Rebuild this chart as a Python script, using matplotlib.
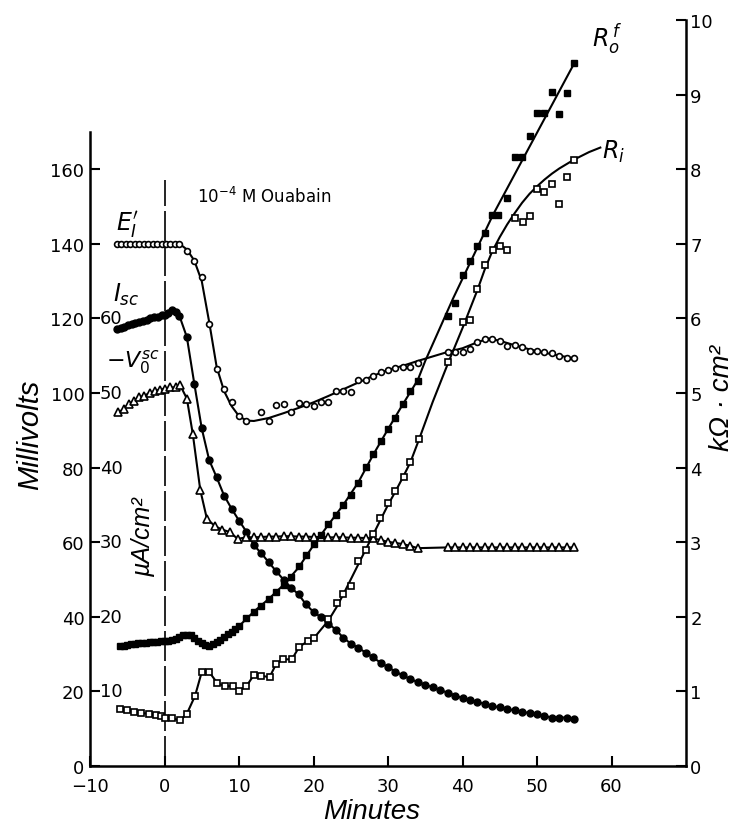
import matplotlib
matplotlib.use("Agg")
import matplotlib.pyplot as plt

# Ouabain experiment: potentials (mV), short-circuit current (uA/cm2 -> plotted x2 on mV scale),
# resistances (kOhm*cm2, right axis; 1 kOhm*cm2 sits at 20 mV on the left scale)

# E_I' (mV), open circles
ei_x = [-6.4, -5.8, -5.2, -4.6, -4.0, -3.4, -2.8, -2.2, -1.6, -1.0, -0.4, 0.2, 0.8, 1.4, 2.0,
        3, 4, 5, 6, 7, 8, 9, 10, 11, 13, 14, 15, 16, 17, 18, 19, 20, 21, 22, 23, 24, 25,
        26, 27, 28, 29, 30, 31, 32, 33, 34,
        38, 39, 40, 41, 42, 43, 44, 45, 46, 47, 48, 49, 50, 51, 52, 53, 54, 55]
ei_y = [140, 140, 140, 140, 140, 140, 140, 140, 140, 140, 140, 140, 140, 140, 140,
        138.1, 135.5, 131.0, 118.5, 106.4, 101.0, 97.7, 93.7, 92.6, 94.8, 92.6, 96.8, 97.0,
        94.8, 97.3, 97.0, 96.5, 97.5, 97.6, 100.6, 100.6, 100.3,
        103.5, 103.5, 104.6, 105.7, 106.2, 106.8, 107.1, 107.1, 108.0,
        111.0, 111.0, 111.1, 111.8, 113.6, 114.5, 114.6, 114.0, 112.7, 112.9, 112.2, 111.3,
        111.3, 111.0, 110.6, 109.8, 109.3, 109.3]
# fitted curve for E_I'
ei_fit_x = [-6.4, 2, 3, 4, 5, 6, 7, 8, 9, 10, 11, 12, 14, 16, 18, 20, 22, 24, 26, 28, 30,
            32, 34, 36, 38, 40, 42, 43.5, 45, 47, 49, 51, 53, 55]
ei_fit_y = [140, 140, 138.5, 135.5, 130, 119, 107, 100.5, 96.5, 93.8, 92.6, 92.5, 93.3,
            94.6, 96, 97.5, 99.2, 101, 102.8, 104.6, 106.2, 107.3, 108.6, 109.8, 111, 112,
            113.6, 114.6, 114, 112.8, 111.7, 110.8, 110, 109.3]

# I_sc (plotted on mV scale, uA/cm2 * 2), filled circles
isc_x = [-6.4, -5.9, -5.4, -4.9, -4.4, -3.9, -3.4, -2.9, -2.4, -1.9, -1.4, -0.9, -0.4, 0.1,
         0.5, 1.0, 1.5, 2.0,
         3, 4, 5, 6, 7, 8, 9, 10, 11, 12, 13, 14, 15, 16, 17, 18, 19, 20, 21, 22, 23, 24,
         25, 26, 27, 28, 29, 30, 31, 32, 33, 34, 35, 36, 37, 38, 39, 40, 41, 42, 43, 44,
         45, 46, 47, 48, 49, 50, 51, 52, 53, 54, 55]
isc_y = [117.2, 117.5, 117.8, 118.1, 118.5, 118.8, 119.1, 119.4, 119.7, 120.0, 120.3,
         120.5, 120.8, 121.0, 121.4, 122.3, 121.6, 120.7,
         115.0, 102.5, 90.5, 82.0, 77.4, 72.5, 69.0, 65.8, 62.8, 59.2, 57.0, 54.6, 52.2,
         49.9, 47.8, 46.0, 43.3, 41.3, 39.9, 38.2, 36.5, 34.4, 32.8, 31.7, 30.4, 29.1, 27.7,
         26.5, 25.3, 24.3, 23.3, 22.5, 21.8, 21.1, 20.3, 19.7, 18.9, 18.2, 17.7, 17.2, 16.6,
         16.1, 15.7, 15.3, 14.9, 14.5, 14.2, 13.9, 13.4, 13.0, 13.0, 13.0, 12.7]

# -V_0^sc (mV), open triangles
v_x = [-6.2, -5.5, -4.8, -4.1, -3.4, -2.7, -2.0, -1.3, -0.6, 0.1, 0.8, 1.5, 2.1,
       3.0, 3.8, 4.8, 5.7, 6.8, 7.7, 8.8, 9.8,
       11, 12, 13, 14, 15, 16, 17, 18, 19, 20, 21, 22, 23, 24, 25, 26, 27, 28,
       29, 30, 31, 32, 33, 34,
       38, 39, 40, 41, 42, 43, 44, 45, 46, 47, 48, 49, 50, 51, 52, 53, 54, 55]
v_y = [94.8, 95.7, 97.1, 97.9, 98.8, 99.3, 100.0, 100.6, 100.9, 101.2, 101.5, 101.5, 102.1,
       98.5, 89.0, 74.0, 66.2, 64.3, 63.4, 62.7, 60.9,
       61.3, 61.3, 61.4, 61.5, 61.5, 61.6, 61.6, 61.5, 61.5, 61.4, 61.4, 61.3, 61.3, 61.3,
       61.2, 61.2, 61.1, 61.0,
       60.6, 60.1, 59.8, 59.5, 59.0, 58.4,
       58.6, 58.6, 58.6, 58.6, 58.6, 58.6, 58.6, 58.6, 58.6, 58.6, 58.6, 58.6, 58.6, 58.6,
       58.6, 58.6, 58.6, 58.6]

# R_o^f (kOhm*cm2), filled squares
ro_x = [-6, -5.5, -5, -4.5, -4, -3.5, -3, -2.5, -2, -1.5, -1, -0.5, 0, 0.5, 1, 1.5, 2, 2.5,
        3, 3.5, 4, 4.5, 5, 5.5, 6, 6.5, 7, 7.5, 8, 8.5, 9, 9.5, 10,
        11, 12, 13, 14, 15, 16, 17, 18, 19, 20, 21, 22, 23, 24, 25, 26, 27, 28, 29, 30, 31,
        32, 33, 34,
        38, 39, 40, 41, 42, 43, 44, 44.8, 46, 47, 48, 49, 50, 51, 52, 53, 54, 55]
ro_y = [1.605, 1.615, 1.625, 1.635, 1.64, 1.645, 1.65, 1.655, 1.66, 1.665, 1.665, 1.67,
        1.67, 1.675, 1.685, 1.70, 1.73, 1.75, 1.76, 1.755, 1.72, 1.675, 1.65, 1.625, 1.615,
        1.63, 1.66, 1.69, 1.725, 1.765, 1.80, 1.84, 1.875,
        1.99, 2.07, 2.145, 2.24, 2.335, 2.43, 2.54, 2.68, 2.83, 2.97, 3.095, 3.24, 3.37,
        3.50, 3.63, 3.79, 4.01, 4.18, 4.36, 4.515, 4.66, 4.855, 5.025, 5.165,
        6.03, 6.20, 6.58, 6.77, 6.97, 7.15, 7.39, 7.39, 7.62, 8.16, 8.16, 8.44, 8.75, 8.75,
        9.04, 8.74, 9.02, 9.42]
# fitted curve for R_o^f
ro_fit_x = [-6, -3, 0, 1.5, 3, 3.5, 4.5, 5.5, 6.5, 8, 10, 12, 14, 16, 18, 20, 22, 24, 26,
            28, 30, 32, 34, 35, 38.7, 44.1, 55]
ro_fit_y = [1.605, 1.65, 1.67, 1.70, 1.76, 1.755, 1.675, 1.615, 1.63, 1.725, 1.875, 2.07,
            2.24, 2.43, 2.66, 2.96, 3.235, 3.50, 3.80, 4.17, 4.515, 4.85, 5.175, 5.43, 6.26,
            7.39, 9.42]

# R_i (kOhm*cm2), open squares
ri_x = [-6.0, -5.1, -4.1, -3.1, -2.1, -1.1, -0.5, 0.1, 1.0, 2.1,
        3.0, 4.1, 5.0, 6.0, 7.1, 8.1, 9.2, 10.0, 11.0, 12.0, 13.0, 14.1, 15.0, 15.9, 17.1,
        18.1, 19.2, 20.1, 22.0, 23.1, 24.0, 25.1, 26.0, 27.1, 28.0, 28.9, 30.0, 30.9, 32.1,
        33.0, 34.1,
        38.1, 40.0, 41.0, 42.0, 43.0, 44.1, 45.0, 46.0, 47.0, 48.1, 49.1, 50.0, 50.9, 52.0,
        53.0, 54.0, 55.0]
ri_y = [0.77, 0.75, 0.73, 0.71, 0.70, 0.68, 0.67, 0.65, 0.64, 0.61,
        0.70, 0.94, 1.26, 1.26, 1.11, 1.07, 1.07, 1.01, 1.07, 1.22, 1.21, 1.19, 1.37, 1.43,
        1.43, 1.60, 1.67, 1.72, 1.97, 2.19, 2.31, 2.41, 2.75, 2.89, 3.11, 3.33, 3.53, 3.69,
        3.87, 4.07, 4.38,
        5.41, 5.95, 5.98, 6.40, 6.71, 6.92, 6.97, 6.92, 7.34, 7.29, 7.37, 7.73, 7.70, 7.80,
        7.53, 7.89, 8.13]
# fitted curve for R_i
ri_fit_x = [-6.0, -5.1, -4.1, -3.1, -2.1, -1.1, -0.5, 0.1, 1.0, 2.1, 3.0, 4.1, 5.0, 6.0,
            7.1, 8.1, 9.2, 10.0, 11.0, 12.0, 13.0, 14.1, 15.0, 15.9, 17.1, 18.1, 19.2, 20.1,
            22, 23.1, 24, 25, 26, 27, 28, 29, 30, 31, 32, 33, 34.1, 36, 38.1, 40, 42, 43, 44,
            45, 46, 47, 48, 49, 50, 51, 52, 53, 55, 57, 58.5]
ri_fit_y = [0.77, 0.75, 0.73, 0.71, 0.70, 0.68, 0.67, 0.65, 0.64, 0.61, 0.70, 0.94, 1.26,
            1.26, 1.11, 1.07, 1.07, 1.01, 1.07, 1.22, 1.21, 1.19, 1.37, 1.43, 1.43, 1.60,
            1.67, 1.72, 1.95, 2.13, 2.30, 2.50, 2.70, 2.90, 3.10, 3.30, 3.50, 3.68, 3.87,
            4.07, 4.36, 4.88, 5.41, 5.87, 6.38, 6.66, 6.90, 7.09, 7.26, 7.41, 7.55, 7.67,
            7.77, 7.86, 7.94, 8.01, 8.13, 8.23, 8.29]

mv_ticks = [0, 20, 40, 60, 80, 100, 120, 140, 160]
ua_ticks = [10, 20, 30, 40, 50, 60]
k_ticks = [0, 1, 2, 3, 4, 5, 6, 7, 8, 9, 10]
min_ticks = [-10, 0, 10, 20, 30, 40, 50, 60]

fig = plt.figure(figsize=(7.43, 8.29), dpi=100)
ax = fig.add_axes([90 / 743, 62 / 829, 596 / 743, 746 / 829])
ax.set_xlim(-10, 70)
ax.set_ylim(0, 200)
ax2 = ax.twinx()
ax2.set_ylim(0, 10)

for a in (ax, ax2):
    a.spines['top'].set_visible(False)
    for s in a.spines.values():
        s.set_linewidth(1.8)
ax.spines['right'].set_visible(False)
ax2.spines['left'].set_visible(False)
ax2.spines['bottom'].set_visible(False)
ax.spines['left'].set_bounds(0, 170)

ax.set_xticks(min_ticks)
ax.set_yticks(mv_ticks)
ax2.set_yticks(k_ticks)
ax.tick_params(direction='in', length=7, width=1.5, labelsize=13, pad=4)
ax.tick_params(axis='x', pad=8)
ax2.tick_params(direction='in', length=7, width=1.5, labelsize=13, pad=3)

# second scale for current, written inside the axis
for v in ua_ticks:
    ax.text(-8.7, 2 * v, str(v), fontsize=13, ha='left', va='center')
ax.text(-2.9, 61.6, "µA/cm²", rotation=90, fontsize=18, style='italic',
        family='Liberation Sans', ha='center', va='center')

# ouabain addition
ax.plot([0, 0], [0, 157], color='black', lw=1.2, dashes=(18, 3))
ax.text(4.4, 152.8, "10$^{-4}$ M Ouabain", fontsize=12, ha='left', va='center')

lw = 1.5
ax.plot(ei_fit_x, ei_fit_y, color='black', lw=lw, zorder=2)
ax.plot(ei_x, ei_y, 'o', ms=4.2, mfc='white', mec='black', mew=1.2, zorder=3)
ax.plot(isc_x, isc_y, '-', color='black', lw=lw, zorder=2)
ax.plot(isc_x, isc_y, 'o', ms=5, color='black', zorder=3)
ax.plot(v_x, v_y, '-', color='black', lw=lw, zorder=2)
ax.plot(v_x, v_y, '^', ms=5.5, mfc='white', mec='black', mew=1.2, zorder=3)
ax2.plot(ro_fit_x, ro_fit_y, color='black', lw=lw, zorder=2)
ax2.plot(ro_x, ro_y, 's', ms=4.5, color='black', zorder=3)
ax2.plot(ri_fit_x, ri_fit_y, color='black', lw=lw, zorder=2)
ax2.plot(ri_x, ri_y, 's', ms=4.5, mfc='white', mec='black', mew=1.2, zorder=3)

ax.text(-5.0, 145.3, r"$E_I'$", fontsize=17, ha='center', va='center')
ax.text(-5.2, 126.5, r"$I_{sc}$", fontsize=17, ha='center', va='center')
ax.text(-4.2, 108.5, r"$-V_0^{sc}$", fontsize=16, ha='center', va='center')
ax2.text(59.5, 9.75, r"$R_o^{\,f}$", fontsize=17, ha='center', va='center')
ax2.text(60.3, 8.25, r"$R_i$", fontsize=17, ha='center', va='center')

fig.text(0.04, 0.475, "Millivolts", rotation=90, fontsize=21, style='italic',
         family='Liberation Sans', ha='center', va='center')
fig.text(0.972, 0.52, "kΩ · cm²", rotation=90, fontsize=20, style='italic',
         family='Liberation Sans', ha='center', va='center')
fig.text(0.5, 0.0205, "Minutes", fontsize=20, style='italic',
         family='Liberation Sans', ha='center', va='center')

fig.savefig("out.png", dpi=100)
